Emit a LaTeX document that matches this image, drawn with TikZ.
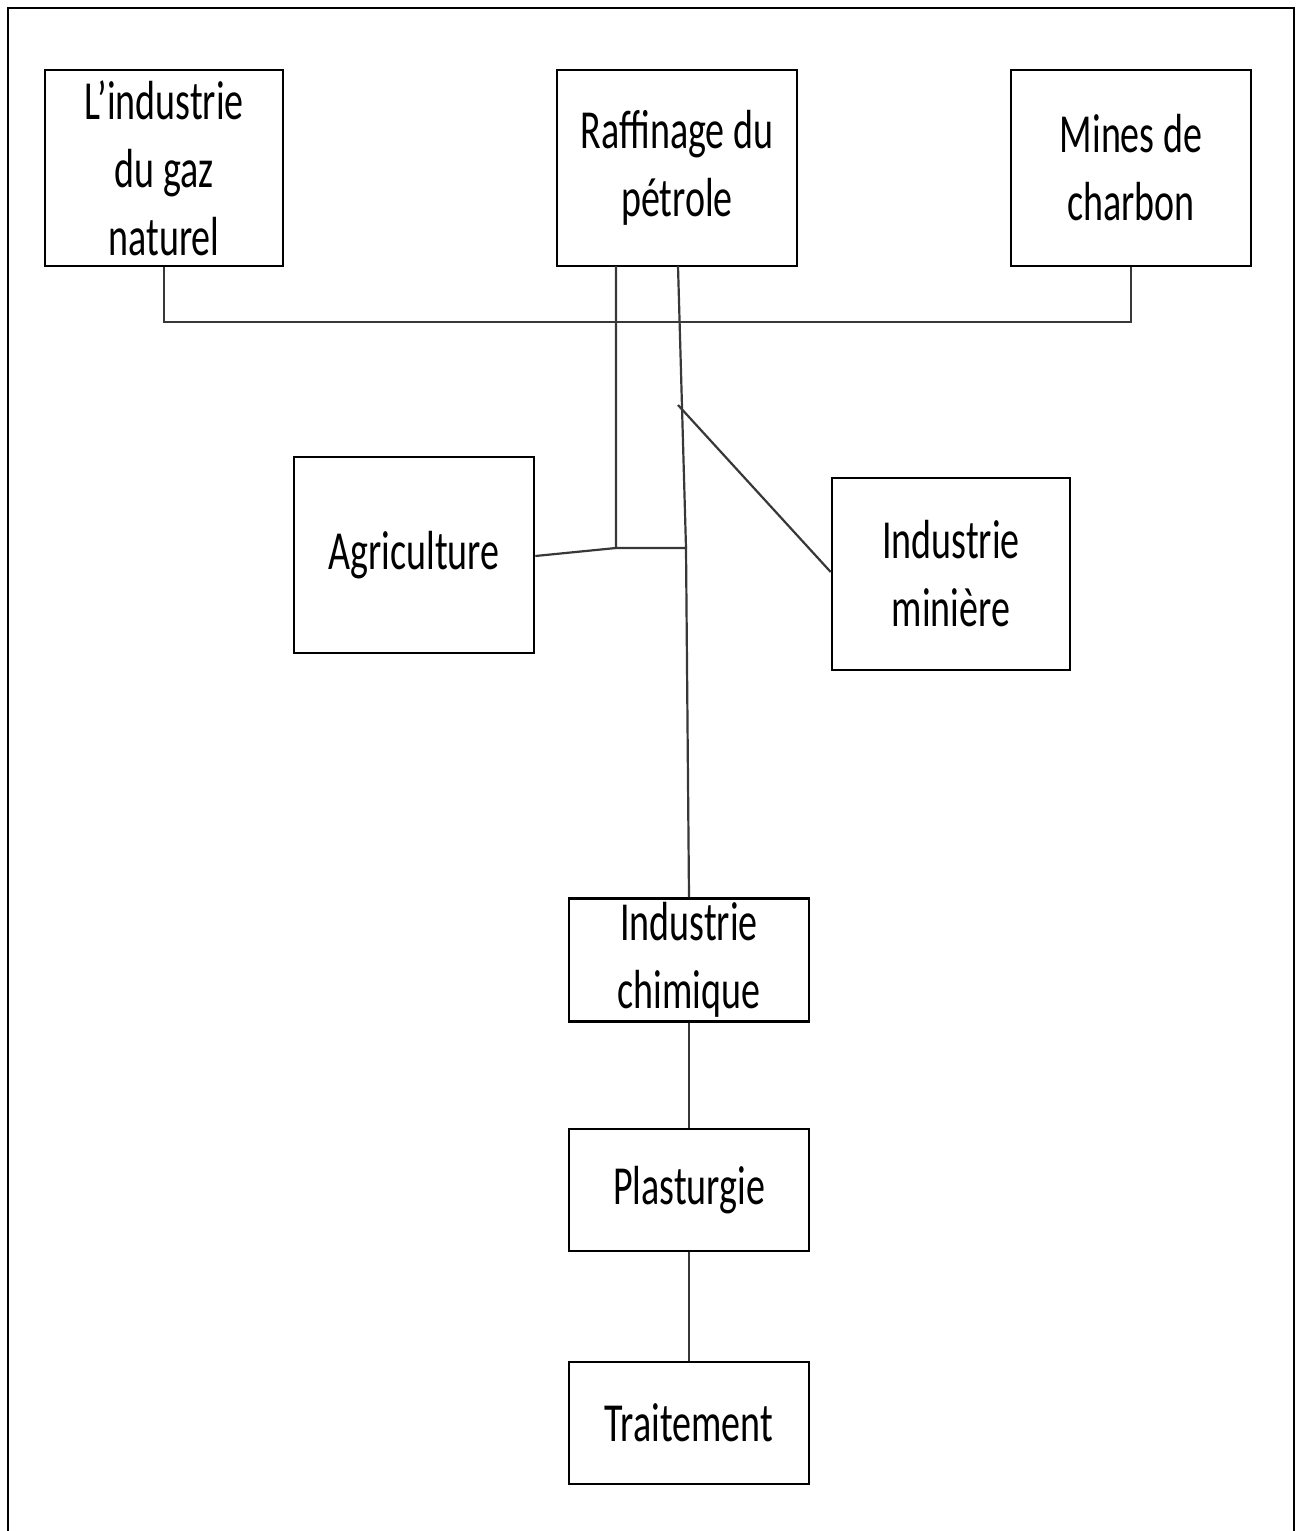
\documentclass[tikz,border=0pt]{standalone}
\usepackage{fontspec}
\setmainfont{Carlito}
\usetikzlibrary{calc}
\newcommand{\ST}[1]{\scalebox{1}[1.45]{#1}}
\tikzset{
  box/.style={draw=black, line width=2.6pt, inner sep=0pt, align=center,
    font=\fontsize{38}{68}\selectfont},
  conn/.style={draw=black!78, line width=2.2pt},
  frame/.style={draw=black, line width=2pt}
}
\begin{document}
\begin{tikzpicture}[x=1pt,y=-1pt]
\clip (0,0) rectangle (1302,1531);
\useasboundingbox (0,0) rectangle (1302,1531);
\fill[white] (0,0) rectangle (1302,1531);
\draw[frame] (8,8) rectangle (1294,1560);

\node[box, minimum width=238pt, minimum height=196pt] (gaz) at (164,168) {\ST{L’industrie}\\\ST{du gaz}\\\ST{naturel}};
\node[box, minimum width=240pt, minimum height=196pt] (raf) at (677,168) {\ST{Raffinage du}\\\ST{pétrole}};
\node[box, minimum width=240pt, minimum height=196pt] (mines) at (1131,168) {\ST{Mines de}\\\ST{charbon}};
\node[box, minimum width=240pt, minimum height=196pt] (agri) at (414,555) {\ST{Agriculture}};
\node[box, minimum width=238pt, minimum height=192pt] (mini) at (951,574) {\ST{Industrie}\\\ST{minière}};
\node[box, minimum width=240pt, minimum height=123pt] (chim) at (689,960) {\ST{Industrie}\\\ST{chimique}};
\node[box, minimum width=240pt, minimum height=122pt] (plast) at (689,1190) {\ST{Plasturgie}};
\node[box, minimum width=240pt, minimum height=122pt] (trait) at (689,1423) {\ST{Traitement}};

\coordinate (bus) at (0,322);
\coordinate (rafA) at (616,266);
\coordinate (rafB) at (678,266);
\coordinate (j1) at (616,548);
\coordinate (j2) at (686,548);
\coordinate (d1) at (678,405);

\draw[conn] (gaz.south) -- (gaz.south |- bus) -- (mines.south |- bus) -- (mines.south);
\draw[conn] (rafA) -- (j1) -- (j2) -- (chim.north);
\draw[conn] (rafB) -- (j2);
\draw[conn] ($(agri.east)+(0,1)$) -- (j1);
\draw[conn] (d1) -- ($(mini.west)+(0,-2)$);
\draw[conn] (chim.south) -- (plast.north);
\draw[conn] (plast.south) -- (trait.north);
\end{tikzpicture}
\end{document}
